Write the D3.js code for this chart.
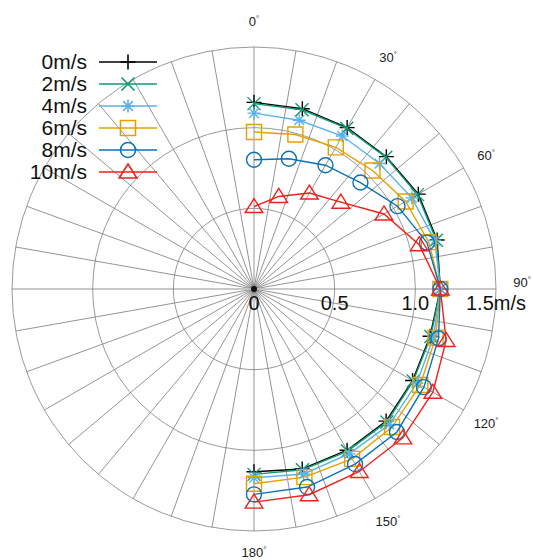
<!DOCTYPE html>
<html><head><meta charset="utf-8">
<script src="https://cdn.jsdelivr.net/npm/d3@7"></script>
<style>body{margin:0;background:#fff}svg{display:block}</style>
</head><body>
<script>
const angles = [0,15,30,45,60,75,90,105,120,135,150,165,180];
const seriesNames = ["0m/s","2m/s","4m/s","6m/s","8m/s","10m/s"];
const s0  = [1.157,1.157,1.155,1.160,1.176,1.175,1.155,1.130,1.135,1.158,1.154,1.155,1.133];
const s2  = [1.149,1.150,1.150,1.155,1.170,1.170,1.155,1.135,1.140,1.165,1.160,1.160,1.149];
const s4  = [1.090,1.083,1.095,1.100,1.130,1.160,1.155,1.152,1.166,1.187,1.180,1.187,1.170];
const s6  = [0.973,0.991,1.014,1.039,1.085,1.122,1.155,1.165,1.190,1.210,1.216,1.207,1.207];
const s8  = [0.801,0.836,0.886,0.933,1.027,1.110,1.155,1.184,1.216,1.253,1.253,1.271,1.273];
const s10 = [0.511,0.594,0.687,0.761,0.930,1.060,1.155,1.233,1.280,1.305,1.306,1.320,1.321];
const seriesValues = [s0,s2,s4,s6,s8,s10];
const radialTicks = [0,0.5,1.0,1.5];
const radialTickLabels = ["0","0.5","1.0","1.5m/s"];
const angleLabels = [0,30,60,90,120,150,180];

const colors = ["#000000","#0f9a72","#56b4e9","#e69f00","#0a72b8","#f0201a"];
const markers = ["plus","cross","star","square","circle","triangle"];

const W=533,H=560,cx=254,cy=289;
const svg=d3.select("body").append("svg").attr("width",W).attr("height",H);
const r=d3.scaleLinear().domain([0,1.5]).range([0,242]);
const a=d3.scaleLinear().domain([0,360]).range([0,2*Math.PI]);
const g=svg.append("g").attr("transform",`translate(${cx},${cy})`);

// spokes
const spokes=d3.range(0,360,10);
g.selectAll("line.spoke").data(spokes).join("line")
  .attr("x1",0).attr("y1",0)
  .attr("x2",d=>r(1.5)*Math.sin(a(d))).attr("y2",d=>-r(1.5)*Math.cos(a(d)))
  .attr("stroke","#5a5a5a").attr("stroke-width",0.65);
// horizontal axis line
g.append("line").attr("x1",-r(1.5)).attr("x2",r(1.5)).attr("y1",0).attr("y2",0)
  .attr("stroke","#c8c8c8").attr("stroke-width",1.4);
// circles
g.selectAll("circle.grid").data(radialTicks.filter(d=>d>0)).join("circle")
  .attr("r",d=>r(d)).attr("fill","none").attr("stroke","#808080").attr("stroke-width",0.8);
g.append("circle").attr("r",3).attr("fill","#111");

// radial labels
g.selectAll("text.rl").data(radialTicks).join("text")
  .attr("x",d=>r(d)).attr("y",21).attr("text-anchor","middle")
  .attr("font-family","Liberation Sans, Arial, sans-serif").attr("font-size",20).attr("fill","#111")
  .text((d,i)=>radialTickLabels[i]);

// angle labels
const al=g.selectAll("text.al").data(angleLabels).join("text")
  .attr("x",d=>268*Math.sin(a(d)))
  .attr("y",d=>d===90?-2:(d===180?268:-268*Math.cos(a(d))+5))
  .attr("text-anchor","middle")
  .attr("font-family","Liberation Sans, Arial, sans-serif").attr("font-size",13).attr("fill","#222");
al.append("tspan").text(d=>d);
al.append("tspan").attr("dy",-5).attr("font-size",8).text("°");

function markerPath(type,s){
  const h=s/2;
  switch(type){
    case "plus": return `M${-h},0H${h}M0,${-h}V${h}`;
    case "cross": return `M${-h},${-h}L${h},${h}M${-h},${h}L${h},${-h}`;
    case "star": {const k=h*0.75;return `M${-h},0H${h}M0,${-h}V${h}M${-k},${-k}L${k},${k}M${-k},${k}L${k},${-k}`;}
    case "square": return `M${-h},${-h}H${h}V${h}H${-h}Z`;
    case "circle": return `M${h},0A${h},${h} 0 1,1 ${-h},0A${h},${h} 0 1,1 ${h},0Z`;
    case "triangle": return `M0,${-h*1.0}L${h*1.1},${h*0.75}L${-h*1.1},${h*0.75}Z`;
  }
}
const msize=[15,13,13,15,15,16];

const line=d3.lineRadial().angle(d=>a(d[0])).radius(d=>r(d[1]));
seriesValues.forEach((vals,i)=>{
  const pts=angles.map((t,j)=>[t,vals[j]]);
  const sg=g.append("g");
  sg.append("path").attr("d",line(pts)).attr("fill","none")
    .attr("stroke",colors[i]).attr("stroke-width",1.4);
  sg.selectAll("path.m").data(pts).join("path")
    .attr("transform",d=>`translate(${r(d[1])*Math.sin(a(d[0]))},${-r(d[1])*Math.cos(a(d[0]))})`)
    .attr("d",markerPath(markers[i],msize[i])).attr("fill","none")
    .attr("stroke",colors[i]).attr("stroke-width",1.4);
});

// legend
const lg=svg.append("g");
seriesNames.forEach((n,i)=>{
  const y=62+i*22;
  lg.append("text").attr("x",87).attr("y",y+7).attr("text-anchor","end")
    .attr("font-family","Liberation Sans, Arial, sans-serif").attr("font-size",21).attr("fill","#111").text(n);
  lg.append("line").attr("x1",99).attr("x2",157).attr("y1",y).attr("y2",y)
    .attr("stroke",colors[i]).attr("stroke-width",1.6);
  lg.append("path").attr("transform",`translate(128,${y})`).attr("d",markerPath(markers[i],msize[i]))
    .attr("fill","none").attr("stroke",colors[i]).attr("stroke-width",1.6);
});
</script>
</body></html>
